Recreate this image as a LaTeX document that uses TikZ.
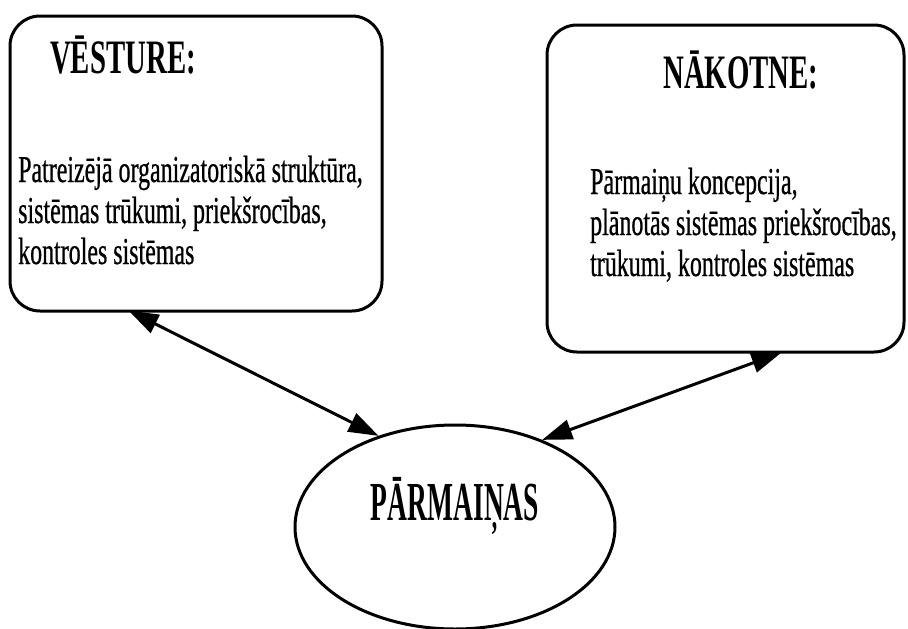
\documentclass[tikz,border=0pt]{standalone}
\usepackage{fontspec}
\setmainfont{Liberation Serif}
\newfontfamily\bodyfont{Liberation Serif}[FakeStretch=0.63,FakeBold=0.6]
\newfontfamily\headfont{Liberation Serif}[FakeStretch=0.6]
\newfontfamily\ovalfont{Liberation Serif}[FakeStretch=0.50]
\usetikzlibrary{arrows.meta,shapes.geometric,calc}

\tikzset{
  panel/.style={draw, line width=3pt, rounded corners=30pt, inner sep=0pt},
  oval/.style={draw, ellipse, line width=3pt, inner sep=0pt},
  heading/.style={font=\headfont\bfseries\fontsize{48}{50}\selectfont, inner sep=0pt, anchor=base west},
  bodyline/.style={font=\bodyfont\fontsize{38}{40}\selectfont, inner sep=0pt, anchor=base west},
  link/.style={line width=3pt, {Triangle[length=30pt,width=20pt]}-{Triangle[length=30pt,width=20pt]}}
}

\begin{document}
\begin{tikzpicture}[x=1pt,y=-1pt]
\useasboundingbox (0,0) rectangle (908,629);

% the two panels
\node[panel, minimum width=372pt, minimum height=295pt] (past) at (196,163.5) {};
\node[panel, minimum width=357pt, minimum height=327pt] (future) at (725.5,188.5) {};

% left panel text
\node[heading] (pasthead) at (50,73) {VĒSTURE:};
\node[bodyline] (pastA) at (18,182) {Patreizējā organizatoriskā struktūra,};
\node[bodyline] (pastB) at (18,223) {sistēmas trūkumi, priekšrocības,};
\node[bodyline] (pastC) at (18,264) {kontroles sistēmas};

% right panel text
\node[heading] (futhead) at (663,88) {NĀKOTNE:};
\node[bodyline] (futA) at (590,194) {Pārmaiņu koncepcija,};
\node[bodyline] (futB) at (590,235) {plānotās sistēmas priekšrocības,};
\node[bodyline] (futC) at (590,276) {trūkumi, kontroles sistēmas};

% central ellipse
\node[oval, minimum width=320pt, minimum height=204pt] (change) at (455,527) {};
\node[font=\ovalfont\bfseries\fontsize{55}{57}\selectfont, inner sep=0pt, anchor=base] (changetext) at (455,520) {PĀRMAIŅAS};

% connectors
\coordinate (pastfoot) at ($(past.south west)+(120,-2)$);
\coordinate (futfoot) at ($(future.south west)+(236,-1)$);
\draw[link] (pastfoot) -- (change.130);
\draw[link] (futfoot) -- (change.45);
\end{tikzpicture}
\end{document}
